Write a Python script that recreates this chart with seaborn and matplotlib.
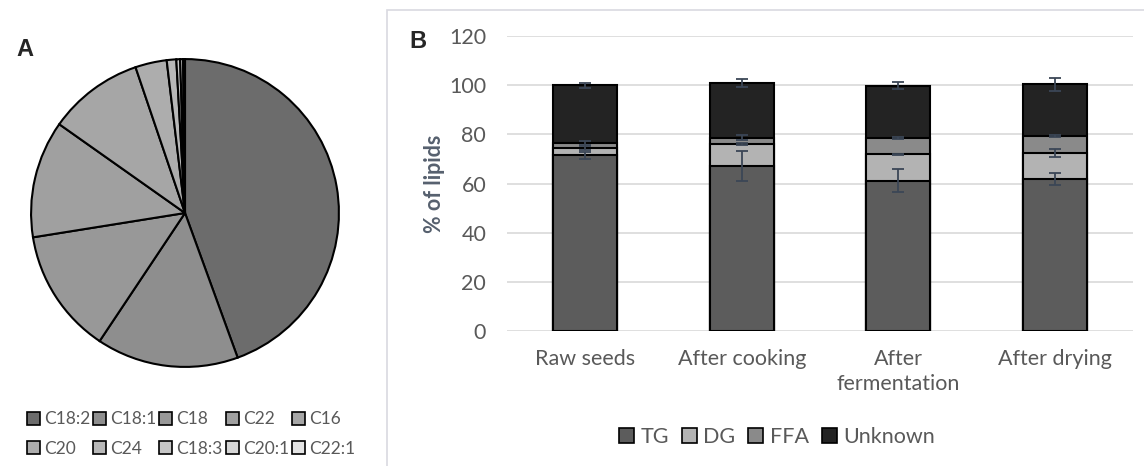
import matplotlib
matplotlib.use('Agg')
import matplotlib.pyplot as plt
import seaborn as sns
import numpy as np
import pandas as pd
from matplotlib.patches import Patch, Rectangle

# Panel A: fatty acid composition (%)
fatty_acids = ['C18:2', 'C18:1', 'C18', 'C22', 'C16', 'C20', 'C24', 'C18:3', 'C20:1', 'C22:1']
fa_values = [44.4, 14.9, 13.1, 12.3, 10.0, 3.3, 1.0, 0.4, 0.3, 0.2]
fa_colors = ['#6c6c6c', '#8e8e8e', '#989898', '#a0a0a0', '#a6a6a6',
             '#adadad', '#b8b8b8', '#c6c6c6', '#d6d6d6', '#e4e4e4']

# Panel B: lipid classes per processing step
stages = ['Raw seeds', 'After cooking', 'After\nfermentation', 'After drying']
lipid_classes = ['TG', 'DG', 'FFA', 'Unknown']
tg = [71.5, 67.2, 61.1, 61.7]
dg = [3.0, 8.8, 10.8, 10.8]
ffa = [2.0, 2.6, 6.8, 6.9]
unknown = [23.5, 22.3, 21.0, 21.0]
tg_err = [1.4, 6.0, 4.6, 2.5]
dg_err = [0.7, 0.4, 0.3, 1.7]
ffa_err = [0.8, 1.0, 0.4, 0.3]
unknown_err = [1.0, 1.7, 1.4, 2.7]
class_colors = ['#5c5c5c', '#b3b3b3', '#8a8a8a', '#232323']

sns.set_theme(style='white')
plt.rcParams['font.family'] = ['Lato', 'DejaVu Sans']

W, H = 1144, 466
fig = plt.figure(figsize=(W / 100, H / 100), dpi=100)

# --- Panel A: pie ---
cx, cy, r = 185, 213, 157
ax_pie = fig.add_axes([(cx - r) / W, (H - cy - r) / H, 2 * r / W, 2 * r / H])
wedges, _ = ax_pie.pie(fa_values, colors=fa_colors, startangle=90, counterclock=False,
                       wedgeprops=dict(edgecolor='black', linewidth=1.5))
ax_pie.set_xlim(-1.02, 1.02)
ax_pie.set_ylim(-1.02, 1.02)
ax_pie.set_aspect('equal')

# legend reads row by row, so interleave for the column-major fill
order = [0, 5, 1, 6, 2, 7, 3, 8, 4, 9]
pie_handles = [Patch(facecolor=fa_colors[i], edgecolor='black', linewidth=1.2) for i in order]
pie_labels = [fatty_acids[i] for i in order]
fig.legend(pie_handles, pie_labels, ncol=5, loc='center', bbox_to_anchor=(191 / W, 1 - 434 / H),
           frameon=False, fontsize=12.5, handlelength=0.75, handleheight=0.75, handletextpad=0.25,
           columnspacing=0.15, labelspacing=0.75, labelcolor='#595959')

fig.text(16 / W, 1 - 50 / H, 'A', fontsize=17, fontweight='bold', family='Liberation Sans',
         va='center', ha='left')

# --- Panel B: stacked bars ---
fig.add_artist(Rectangle((387 / W, -0.05), 1.0, 1 - 10 / H + 0.05, transform=fig.transFigure,
                         facecolor='none', edgecolor='#d9d9e0', linewidth=1.2))

ax = fig.add_axes([507 / W, (H - 331) / H, 626 / W, 295 / H])
layers = [tg, dg, ffa, unknown]
errs = [tg_err, dg_err, ffa_err, unknown_err]
cum = np.cumsum(np.array(layers), axis=0)

# draw cumulative totals from the top layer down so each lower layer overlays the one above
for k in range(len(layers) - 1, -1, -1):
    df = pd.DataFrame({'stage': stages, 'value': cum[k]})
    sns.barplot(data=df, x='stage', y='value', color=class_colors[k], saturation=1,
                width=0.41, edgecolor='black', linewidth=1.5, ax=ax, zorder=2)

xpos = np.arange(len(stages))
for k in range(len(layers)):
    ax.errorbar(xpos, cum[k], yerr=errs[k], fmt='none', ecolor='#3b4656',
                elinewidth=1.3, capsize=4.5, capthick=1.3, zorder=3)

ax.set_ylim(0, 120)
ax.set_xlim(-0.5, 3.5)
ax.set_yticks(range(0, 121, 20))
ax.yaxis.grid(True, color='#d9d9d9', linewidth=1.2, zorder=0)
ax.set_axisbelow(True)
for s in ax.spines.values():
    s.set_visible(False)
ax.set_xlabel('')
ax.set_ylabel('% of lipids', fontsize=15.5, fontweight='bold', color='#56606e', labelpad=3)
ax.tick_params(axis='y', length=0, labelsize=15.5, labelcolor='#595959', pad=15)
ax.tick_params(axis='x', length=0, labelsize=15.5, labelcolor='#595959', pad=13)
for lbl in ax.get_xticklabels():
    lbl.set_linespacing(1.3)

b_handles = [Patch(facecolor=c, edgecolor='black', linewidth=1.2) for c in class_colors]
fig.legend(b_handles, lipid_classes, ncol=4, loc='center', bbox_to_anchor=(777 / W, 1 - 437 / H),
           frameon=False, fontsize=15.5, handlelength=0.7, handleheight=0.7, handletextpad=0.3,
           columnspacing=0.6, labelcolor='#595959')

fig.text(418 / W, 1 - 42 / H, 'B', fontsize=17, fontweight='bold', family='Liberation Sans',
         va='center', ha='center')

fig.savefig('out.png', dpi=100)
